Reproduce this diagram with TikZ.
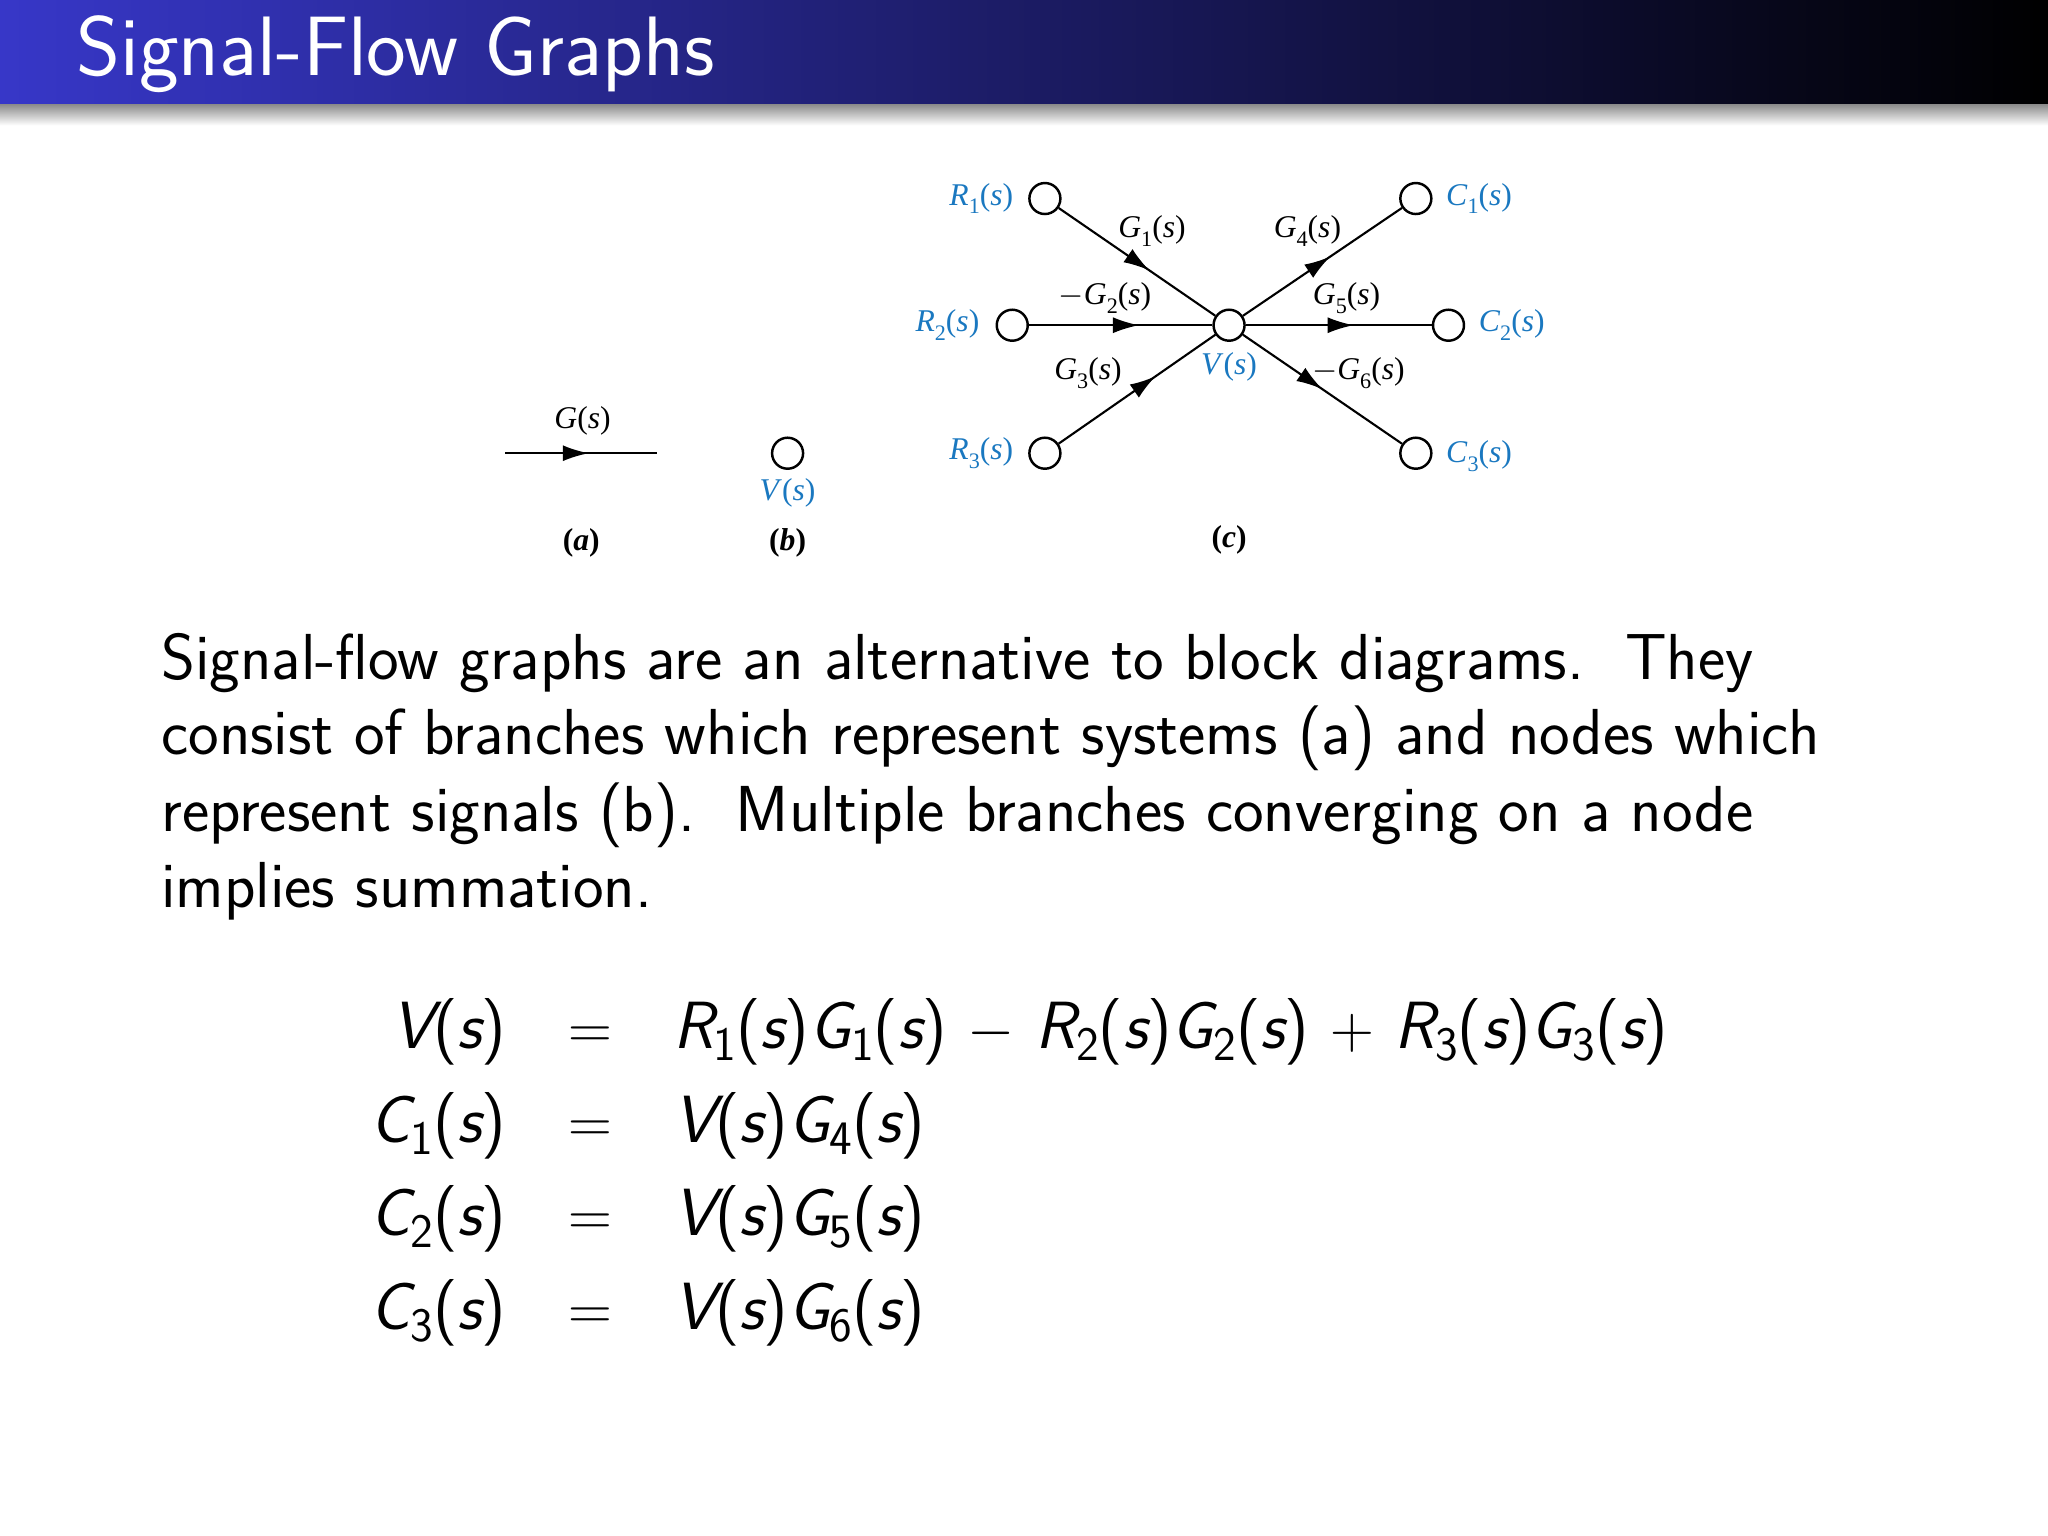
\documentclass[tikz,border=0pt]{standalone}
\usepackage{fontspec}
\newfontfamily\dfont{Liberation Serif}
\usetikzlibrary{decorations.markings,arrows.meta}
\definecolor{lblue}{RGB}{26,120,192}
\definecolor{tblue}{RGB}{55,55,200}
\newcommand\sbs[1]{\raisebox{-0.28em}{\scalebox{0.7}{#1}}}
\newcommand\esb[1]{\raisebox{-0.18em}{\scalebox{0.72}{#1}}}
\newcommand\dv[2]{\textit{#1}\sbs{#2}(\textit{s})}
\newcommand\ev[2]{{\slshape #1}\esb{#2}({\slshape s})}
\tikzset{
 sig/.style={circle,draw,line width=0.7pt,minimum size=0.31cm,inner sep=0pt},
 lbl/.style={font=\dfont\fontsize{9}{11}\selectfont,inner sep=1pt},
 blbl/.style={lbl,text=lblue},
 br/.style={line width=0.6pt,postaction={decorate},decoration={markings,mark=at position #1 with {\arrow{Latex[length=2.6mm,width=1.6mm]}}}},
 br/.default=0.58,
 body/.style={font=\sffamily\fontsize{18.5}{22}\selectfont,anchor=base west,inner sep=0pt},
 eq/.style={font=\sffamily\fontsize{19}{24}\selectfont,inner sep=0pt}
}
\begin{document}
\begin{tikzpicture}[x=0.01306cm,y=-0.01306cm]
\useasboundingbox (0,0) rectangle (1568,1176);
\shade[left color=tblue,right color=black] (0,0) rectangle (1568,80);
\shade[top color=black!45,bottom color=white] (0,80) rectangle (1568,96);
\node[anchor=base west,inner sep=0pt,text=white,font=\sffamily\fontsize{24}{28}\selectfont] (title) at (58,58) {Signal-Flow Graphs};
% (a)
\coordinate (a1) at (387,347); \coordinate (a2) at (503,347);
\draw[br=0.55] (a1) -- (a2);
\node[lbl] (ga) at (446,323) {\dv{G}{}};
\node[lbl,font=\dfont\bfseries\fontsize{9}{11}\selectfont] (la) at (445,416) {(\textit{a})};
% (b)
\node[sig] (vb) at (603,347) {};
\node[blbl] (vbl) at (603,378) {\dv{V}{}};
\node[lbl,font=\dfont\bfseries\fontsize{9}{11}\selectfont] (lb) at (603,416) {(\textit{b})};
% (c)
\node[sig] (R1) at (800,152) {};
\node[sig] (R2) at (775,249) {};
\node[sig] (R3) at (800,347) {};
\node[sig] (V) at (941,249) {};
\node[sig] (C1) at (1084,152) {};
\node[sig] (C2) at (1109,249) {};
\node[sig] (C3) at (1084,347) {};
\draw[br] (R1) -- (V);
\draw[br=0.6] (R2) -- (V);
\draw[br=0.62] (R3) -- (V);
\draw[br=0.55] (V) -- (C1);
\draw[br] (V) -- (C2);
\draw[br=0.5] (V) -- (C3);
\node[blbl,anchor=east] at (779,152) {\dv{R}{1}};
\node[blbl,anchor=east] at (753,249) {\dv{R}{2}};
\node[blbl,anchor=east] at (779,347) {\dv{R}{3}};
\node[blbl,anchor=west] at (1104,152) {\dv{C}{1}};
\node[blbl,anchor=west] at (1129,249) {\dv{C}{2}};
\node[blbl,anchor=west] at (1104,349) {\dv{C}{3}};
\node[blbl] at (941,282) {\dv{V}{}};
\node[lbl] at (882,177) {\dv{G}{1}};
\node[lbl] at (846,228) {$-$\dv{G}{2}};
\node[lbl] at (833,286) {\dv{G}{3}};
\node[lbl] at (1001,177) {\dv{G}{4}};
\node[lbl] at (1031,228) {\dv{G}{5}};
\node[lbl] at (1040,286) {$-$\dv{G}{6}};
\node[lbl,font=\dfont\bfseries\fontsize{9}{11}\selectfont] (lc) at (941,413) {(\textit{c})};
% body
\node[body] (t1) at (123,520) {Signal-flow graphs are an alternative to block diagrams.\ \ They};
\node[body] (t2) at (123,578) {consist of branches which represent systems (a) and nodes which};
\node[body] (t3) at (123,637) {represent signals (b).\ \ Multiple branches converging on a node};
\node[body] (t4) at (123,695) {implies summation.};
% equations
\foreach \y/\l/\r in {
 803/{\ev{V}{}}/{\ev{R}{1}\ev{G}{1} $-$ \ev{R}{2}\ev{G}{2} $+$ \ev{R}{3}\ev{G}{3}},
 875/{\ev{C}{1}}/{\ev{V}{}\ev{G}{4}},
 946/{\ev{C}{2}}/{\ev{V}{}\ev{G}{5}},
 1018/{\ev{C}{3}}/{\ev{V}{}\ev{G}{6}}}{
 \node[eq,anchor=base east] at (388,\y) {\l};
 \node[eq,anchor=base] at (452,\y) {$=$};
 \node[eq,anchor=base west] at (515,\y) {\r};
}
\end{tikzpicture}
\end{document}
